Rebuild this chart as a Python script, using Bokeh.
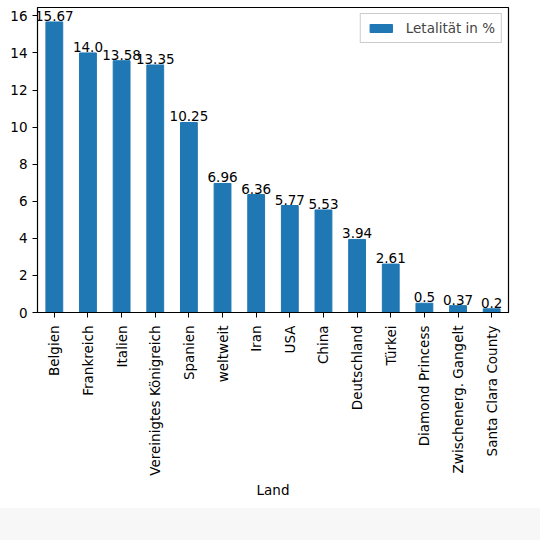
import math

from bokeh.plotting import figure
from bokeh.models import ColumnDataSource, FactorRange, FixedTicker, Legend, LegendItem, Div
from bokeh.layouts import column
from bokeh.core.properties import value
from bokeh.embed import file_html
from bokeh.resources import INLINE

laender = ["Belgien", "Frankreich", "Italien", "Vereinigtes Königreich", "Spanien",
           "weltweit", "Iran", "USA", "China", "Deutschland", "Türkei",
           "Diamond Princess", "Zwischenerg. Gangelt", "Santa Clara County"]
letalitaet = [15.67, 14.0, 13.58, 13.35, 10.25, 6.96, 6.36, 5.77, 5.53, 3.94, 2.61,
              0.5, 0.37, 0.2]
y_ticks = [0, 2, 4, 6, 8, 10, 12, 14, 16]

FONT = "DejaVu Sans"
FS = "13.5px"
BLUE = "#1f77b4"

source = ColumnDataSource(data=dict(land=laender, wert=letalitaet,
                                    label=[str(v) for v in letalitaet]))

p = figure(x_range=FactorRange(*laender), y_range=(0, 16.45),
           width=540, height=508, output_backend="svg", toolbar_location=None,
           min_border_left=37, min_border_right=32, min_border_top=7,
           min_border_bottom=196)

bars = p.vbar(x="land", top="wert", width=0.5, source=source,
              fill_color=BLUE, line_color=BLUE)
# Wert direkt ueber dem Balken
p.text(x="land", y="wert", text="label", source=source,
       text_align="center", text_baseline="bottom", y_offset=-1,
       text_font_size=value(FS), text_color="black", text_font=value(FONT))

p.xgrid.visible = False
p.ygrid.visible = False
p.outline_line_color = "black"
p.outline_line_width = 1.2
p.outline_line_alpha = 1

p.yaxis.ticker = FixedTicker(ticks=y_ticks)
p.xaxis.axis_label = "Land"

for ax in (p.xaxis[0], p.yaxis[0]):
    ax.axis_line_color = "black"
    ax.major_tick_line_color = "black"
    ax.minor_tick_line_color = None
    ax.major_tick_out = 5
    ax.major_tick_in = 0
    ax.major_label_text_font = FONT
    ax.major_label_text_font_size = FS
    ax.major_label_text_color = "black"
    ax.axis_label_text_font = FONT
    ax.axis_label_text_font_size = FS
    ax.axis_label_text_font_style = "normal"
    ax.axis_label_text_color = "black"

p.yaxis.major_label_standoff = 5
p.xaxis.major_label_orientation = math.pi / 2
p.xaxis.major_label_standoff = 8
p.xaxis.axis_label_standoff = 3

legend = Legend(items=[LegendItem(label="Letalität in %", renderers=[bars])],
                location="top_right", label_text_font=FONT, label_text_font_size=FS,
                glyph_width=28, glyph_height=10, label_height=13, label_standoff=11,
                padding=6, margin=6, spacing=0,
                border_line_color="#cccccc", border_line_alpha=1,
                background_fill_alpha=0.8)
p.add_layout(legend)

band = Div(text="", width=540, height=32, margin=0,
           styles={"background-color": "#f7f7f7"})

page = column(p, band, spacing=0)
open("out.html", "w").write(file_html(page, INLINE))
